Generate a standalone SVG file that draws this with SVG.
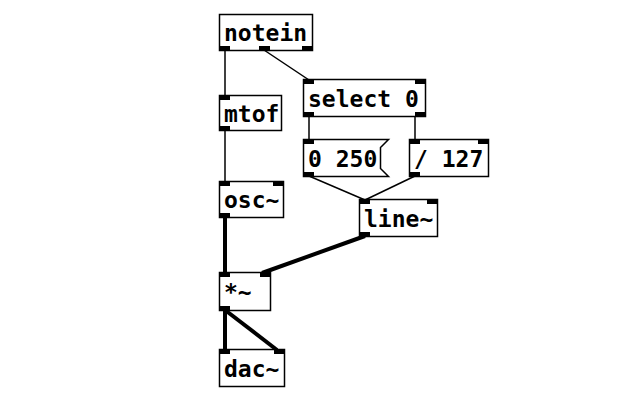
<svg xmlns="http://www.w3.org/2000/svg" width="640" height="400" viewBox="0 0 640 400">
<style>
.box{fill:#fff;stroke:#000;stroke-width:1.5}
.io{fill:#000}
.t{font-family:"DejaVu Sans Mono",monospace;font-weight:bold;font-size:23px;fill:#000}
.c{stroke:#000;stroke-width:1.5;fill:none}
.s{stroke:#000;stroke-width:4;fill:none}
</style>
<rect width="640" height="400" fill="#fff"/>
<g id="connectors">
<line class="c" x1="225" y1="50" x2="225" y2="95"/>
<line class="c" x1="264" y1="50" x2="309" y2="80"/>
<line class="c" x1="309" y1="116" x2="309" y2="139"/>
<line class="c" x1="415" y1="116" x2="415" y2="139"/>
<line class="c" x1="309" y1="176" x2="365" y2="200"/>
<line class="c" x1="415" y1="176" x2="365" y2="200"/>
<line class="c" x1="225" y1="130" x2="225" y2="181"/>
<line class="s" x1="225" y1="217" x2="225" y2="273"/>
<line class="s" x1="365" y1="236" x2="262" y2="273"/>
<line class="s" x1="225" y1="310" x2="225" y2="350"/>
<line class="s" x1="225" y1="310" x2="277" y2="350"/>
</g>
<g id="notein">
<rect class="box" x="219.5" y="14.5" width="93" height="36"/>
<rect class="io" x="219" y="46" width="11" height="5"/>
<rect class="io" x="259" y="46" width="11" height="5"/>
<rect class="io" x="302" y="46" width="11" height="5"/>
<text class="t" x="224" y="41">notein</text>
</g>
<g id="select">
<rect class="box" x="303.5" y="79.5" width="122" height="37"/>
<rect class="io" x="303" y="79" width="11" height="5"/>
<rect class="io" x="415" y="79" width="11" height="5"/>
<rect class="io" x="303" y="112" width="11" height="5"/>
<rect class="io" x="415" y="112" width="11" height="5"/>
<text class="t" x="308" y="107">select 0</text>
</g>
<g id="mtof">
<rect class="box" x="219.5" y="95.5" width="62" height="35"/>
<rect class="io" x="219" y="95" width="11" height="5"/>
<rect class="io" x="219" y="126" width="11" height="5"/>
<text class="t" x="224" y="122">mtof</text>
</g>
<g id="msg">
<path class="box" d="M303.5 139.5 H388.5 L380.5 147.5 V168.5 L388.5 176.5 H303.5 Z"/>
<rect class="io" x="303" y="139" width="11" height="5"/>
<rect class="io" x="303" y="172" width="11" height="5"/>
<text class="t" x="308" y="167">0 250</text>
</g>
<g id="div">
<rect class="box" x="409.5" y="139.5" width="79" height="37"/>
<rect class="io" x="409" y="139" width="11" height="5"/>
<rect class="io" x="478" y="139" width="11" height="5"/>
<rect class="io" x="409" y="172" width="11" height="5"/>
<text class="t" x="414" y="167">/ 127</text>
</g>
<g id="osc">
<rect class="box" x="219.5" y="181.5" width="64" height="36"/>
<rect class="io" x="219" y="181" width="11" height="5"/>
<rect class="io" x="273" y="181" width="11" height="5"/>
<rect class="io" x="219" y="213" width="11" height="5"/>
<text class="t" x="224" y="208">osc~</text>
</g>
<g id="line">
<rect class="box" x="359.5" y="199.5" width="78" height="37"/>
<rect class="io" x="359" y="199" width="11" height="5"/>
<rect class="io" x="427" y="199" width="11" height="5"/>
<rect class="io" x="359" y="232" width="11" height="5"/>
<text class="t" x="364" y="227">line~</text>
</g>
<g id="mul">
<rect class="box" x="219.5" y="272.5" width="51" height="38"/>
<rect class="io" x="219" y="272" width="11" height="5"/>
<rect class="io" x="260" y="272" width="11" height="5"/>
<rect class="io" x="219" y="306" width="11" height="5"/>
<text class="t" x="224" y="300">*~</text>
</g>
<g id="dac">
<rect class="box" x="219.5" y="349.5" width="65" height="37"/>
<rect class="io" x="219" y="349" width="11" height="5"/>
<rect class="io" x="274" y="349" width="11" height="5"/>
<text class="t" x="224" y="377">dac~</text>
</g>
</svg>
